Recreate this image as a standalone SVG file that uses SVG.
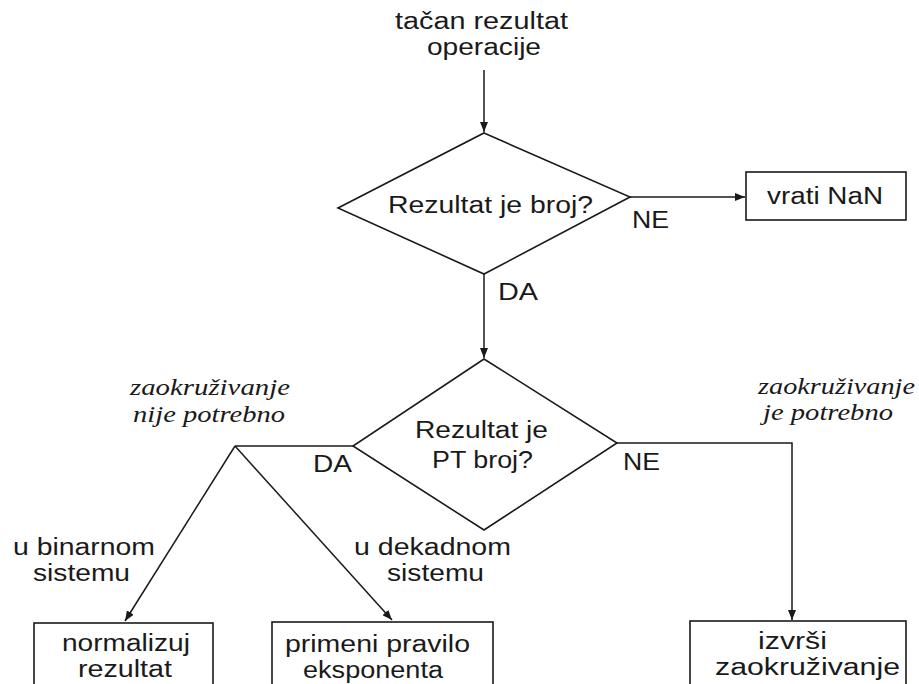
<svg xmlns="http://www.w3.org/2000/svg" width="919" height="684" viewBox="0 0 919 684">
<defs>
<marker id="ah" viewBox="0 0 10 8" refX="10" refY="4" markerWidth="10" markerHeight="8" markerUnits="userSpaceOnUse" orient="auto">
<path d="M0,0 L10,4 L0,8 z" fill="#1a1a1a"/>
</marker>
<style>
.s{font-family:"Liberation Sans",Arial,sans-serif;font-size:23px;fill:#1a1a1a}
.i{font-family:"Liberation Serif","Times New Roman",serif;font-style:italic;font-size:23px;fill:#1a1a1a}
.shape{fill:#fff;stroke:#1a1a1a;stroke-width:1.6}
.c{fill:none;stroke:#1a1a1a;stroke-width:1.5}
.ca{fill:none;stroke:#1a1a1a;stroke-width:1.5;marker-end:url(#ah)}
</style>
</defs>
<rect width="919" height="684" fill="#fff"/>
<g id="start">
<text class="s" x="395" y="29" textLength="173" lengthAdjust="spacingAndGlyphs">tačan rezultat</text>
<text class="s" x="427" y="55" textLength="114" lengthAdjust="spacingAndGlyphs">operacije</text>
</g>
<g id="connectors">
<line class="ca" x1="484" y1="70" x2="484" y2="132"/>
<line class="ca" x1="630" y1="197" x2="745" y2="197"/>
<line class="ca" x1="484" y1="274" x2="484" y2="358"/>
<line class="c" x1="353" y1="446" x2="235" y2="446"/>
<line class="ca" x1="235" y1="446" x2="125" y2="621"/>
<line class="ca" x1="235" y1="446" x2="392" y2="620"/>
<polyline class="ca" points="617,443 792,443 792,620"/>
<text class="s" x="632" y="228" textLength="37" lengthAdjust="spacingAndGlyphs">NE</text>
<text class="s" x="498" y="300" textLength="40" lengthAdjust="spacingAndGlyphs">DA</text>
<text class="s" x="313" y="472" textLength="39" lengthAdjust="spacingAndGlyphs">DA</text>
<text class="s" x="623" y="470" textLength="37" lengthAdjust="spacingAndGlyphs">NE</text>
<text class="i" x="130" y="395" textLength="160" lengthAdjust="spacingAndGlyphs">zaokruživanje</text>
<text class="i" x="133" y="422" textLength="152" lengthAdjust="spacingAndGlyphs">nije potrebno</text>
<text class="i" x="758" y="394" textLength="157" lengthAdjust="spacingAndGlyphs">zaokruživanje</text>
<text class="i" x="763" y="420" textLength="130" lengthAdjust="spacingAndGlyphs">je potrebno</text>
<text class="s" x="13" y="555" textLength="142" lengthAdjust="spacingAndGlyphs">u binarnom</text>
<text class="s" x="33" y="581" textLength="97" lengthAdjust="spacingAndGlyphs">sistemu</text>
<text class="s" x="354" y="555" textLength="157" lengthAdjust="spacingAndGlyphs">u dekadnom</text>
<text class="s" x="387" y="581" textLength="97" lengthAdjust="spacingAndGlyphs">sistemu</text>
</g>
<g id="dec1">
<polygon class="shape" points="484,133 630,197 484,274 338,208"/>
<text class="s" x="388" y="213" textLength="205" lengthAdjust="spacingAndGlyphs">Rezultat je broj?</text>
</g>
<g id="nan">
<rect class="shape" x="746" y="172" width="160" height="48"/>
<text class="s" x="767" y="204" textLength="116" lengthAdjust="spacingAndGlyphs">vrati NaN</text>
</g>
<g id="dec2">
<polygon class="shape" points="484,359 617,443 484,530 353,446"/>
<text class="s" x="415" y="438" textLength="133" lengthAdjust="spacingAndGlyphs">Rezultat je</text>
<text class="s" x="432" y="468" textLength="101" lengthAdjust="spacingAndGlyphs">PT broj?</text>
</g>
<g id="norm">
<rect class="shape" x="34" y="623" width="179" height="70"/>
<text class="s" x="62" y="651" textLength="128" lengthAdjust="spacingAndGlyphs">normalizuj</text>
<text class="s" x="78" y="677" textLength="94" lengthAdjust="spacingAndGlyphs">rezultat</text>
</g>
<g id="exp">
<rect class="shape" x="272" y="622" width="221" height="70"/>
<text class="s" x="285" y="652" textLength="185" lengthAdjust="spacingAndGlyphs">primeni pravilo</text>
<text class="s" x="303" y="678" textLength="140" lengthAdjust="spacingAndGlyphs">eksponenta</text>
</g>
<g id="round">
<rect class="shape" x="690" y="621" width="216" height="70"/>
<text class="s" x="758" y="649" textLength="69" lengthAdjust="spacingAndGlyphs">izvrši</text>
<text class="s" x="715" y="675" textLength="185" lengthAdjust="spacingAndGlyphs">zaokruživanje</text>
</g>
</svg>
